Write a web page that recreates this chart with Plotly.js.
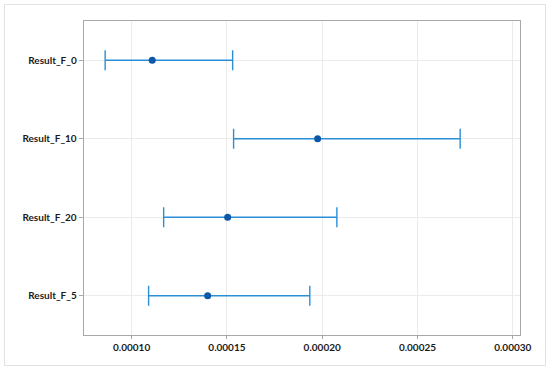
<!DOCTYPE html>
<html><head><meta charset="utf-8">
<script src="https://cdn.plot.ly/plotly-3.0.1.min.js"></script>
<style>
html,body{margin:0;padding:0;background:#fff;}
#frame{position:absolute;left:4px;top:4px;width:540px;height:360px;border:1px solid #e2e2e2;}
#chart{position:absolute;left:0;top:0;width:550px;height:370px;}
</style></head>
<body>
<div id="frame"></div>
<div id="chart"></div>
<script>
var categories = ["Result_F_0", "Result_F_10", "Result_F_20", "Result_F_5"];
var estimates = [0.0001108, 0.0001976, 0.0001504, 0.0001399];
var lower = [0.0000861, 0.0001535, 0.0001168, 0.0001089];
var upper = [0.0001530, 0.0002724, 0.0002077, 0.0001935];
var tickVals = [0.00010, 0.00015, 0.00020, 0.00025, 0.00030];
var tickText = ["0.00010", "0.00015", "0.00020", "0.00025", "0.00030"];

var plus = estimates.map(function(v,i){return upper[i]-v;});
var minus = estimates.map(function(v,i){return v-lower[i];});

var trace = {
  type: 'scatter', mode: 'markers',
  x: estimates, y: categories,
  marker: {color: '#0b57a8', size: 7},
  error_x: {type: 'data', symmetric: false, array: plus, arrayminus: minus,
            color: '#2b8fd8', thickness: 1.4, width: 10},
  hoverinfo: 'none'
};
var fam = 'Lato, "Noto Sans", sans-serif';
var tf = {family: fam, size: 10, color: '#1a1a1a', weight: 700};
var layout = {
  width: 550, height: 370,
  margin: {l: 84, r: 30, t: 21, b: 35},
  paper_bgcolor: 'rgba(0,0,0,0)', plot_bgcolor: '#fff',
  showlegend: false,
  font: {family: fam, size: 11, color: '#1a1a1a'},
  xaxis: {range: [0.000075, 0.0003038], tickvals: tickVals, ticktext: tickText,
          showgrid: true, gridcolor: '#ebebeb', gridwidth: 1,
          showline: true, linecolor: '#a8a8a8', linewidth: 1.3, mirror: true,
          ticks: 'outside', ticklen: 3, tickcolor: '#a8a8a8',
          zeroline: false, tickfont: tf},
  yaxis: {type: 'category', categoryorder: 'array', categoryarray: categories,
          range: [3.5, -0.5],
          showgrid: true, gridcolor: '#ebebeb', gridwidth: 1,
          showline: true, linecolor: '#a8a8a8', linewidth: 1.3, mirror: true,
          ticks: 'outside', ticklen: 4, tickcolor: '#a8a8a8',
          zeroline: false, tickfont: tf}
};
Plotly.newPlot('chart', [trace], layout, {displayModeBar: false, staticPlot: true});
</script>
</body></html>
